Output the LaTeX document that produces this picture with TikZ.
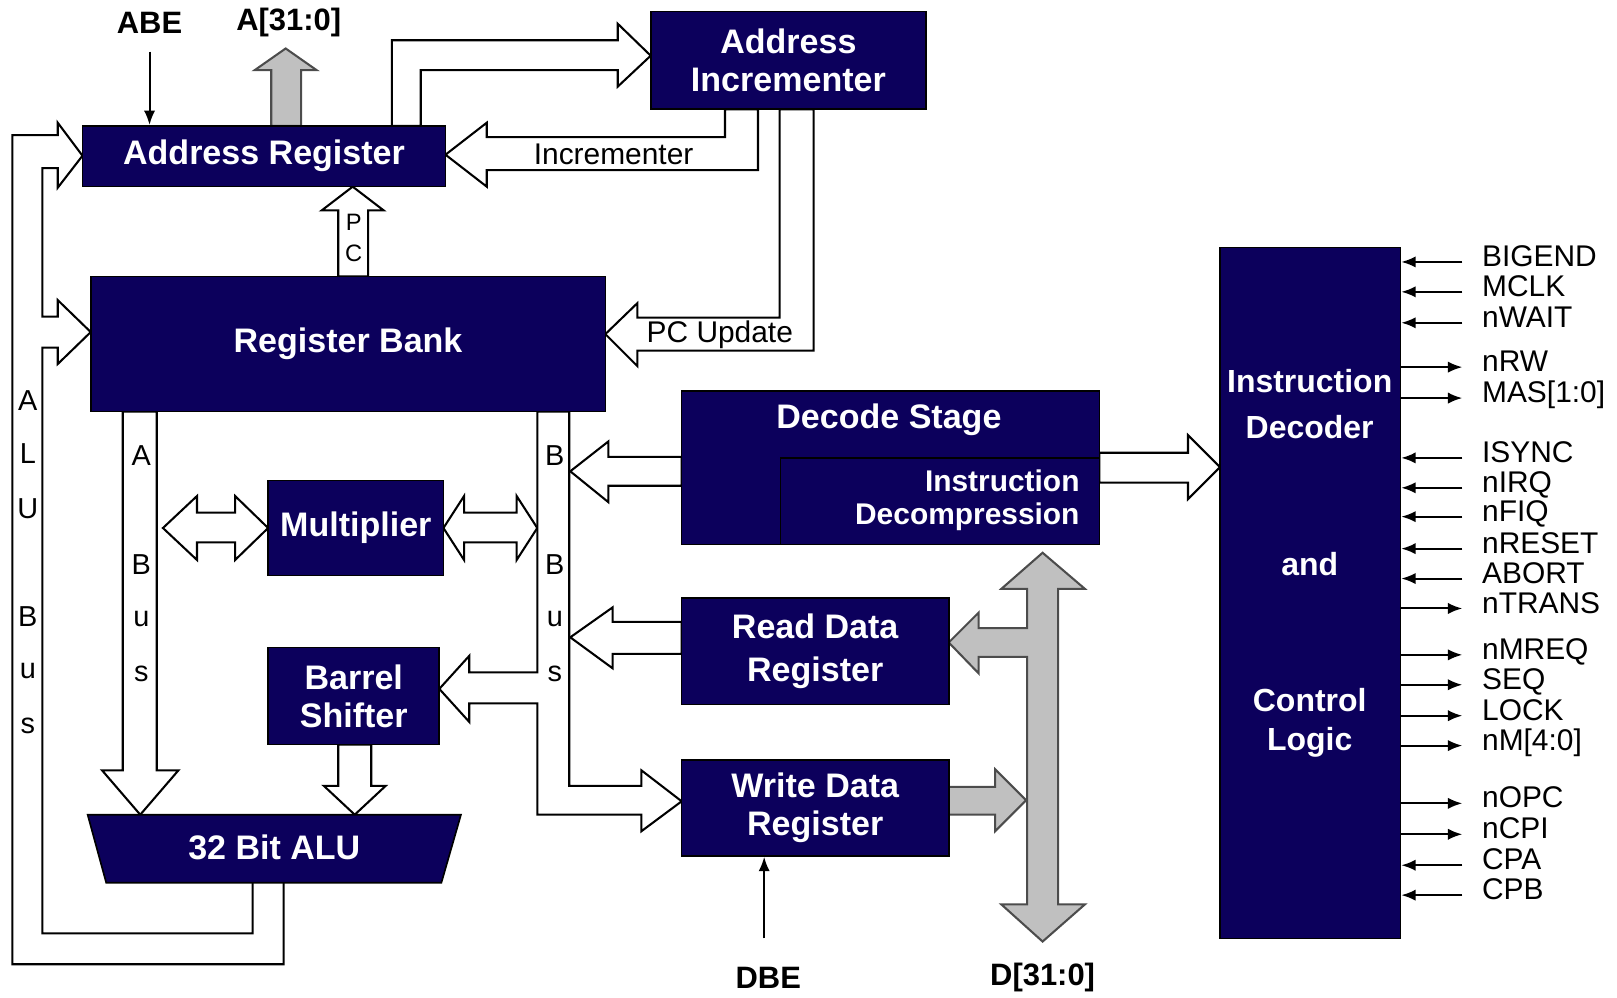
\documentclass[tikz,border=0pt]{standalone}
\usepackage{fontspec}
\setmainfont{Liberation Sans}
\usetikzlibrary{arrows.meta}
\definecolor{navy}{RGB}{12,0,92}
\definecolor{busgray}{RGB}{192,192,192}
\pgfdeclarelayer{bg}
\pgfsetlayers{bg,main}
\begin{document}
\begin{tikzpicture}[x=1pt,y=-1pt,line join=miter,
 blk/.style={draw=black,line width=1.6pt,fill=navy,text=white,inner sep=0pt,align=center,font=\bfseries\fontsize{33}{37}\selectfont},
 wtxt/.style={text=white,inner sep=0pt,align=center,font=\bfseries\fontsize{33}{37}\selectfont},
 hollow/.style={draw=black,line width=2pt,fill=white},
 busline/.style={draw=black,line width=2pt},
 grayarr/.style={draw=black!70,line width=2pt,fill=busgray},
 lbl/.style={inner sep=0pt,font=\fontsize{29}{30}\selectfont},
 letter/.style={inner sep=0pt,font=\fontsize{28}{30}\selectfont},
 pin/.style={inner sep=0pt,font=\bfseries\fontsize{30}{32}\selectfont},
 sig/.style={inner sep=0pt,anchor=west,text height=21pt,text depth=0pt,font=\fontsize{29}{30}\selectfont},
 sigarrow/.style={line width=2pt,-{Latex[length=14pt,width=11pt]}},
]
\useasboundingbox (0,0) rectangle (1568,967);

% ---------- blocks ----------
\node[blk,minimum width=352,minimum height=59] (ar) at (256,151.5) {Address Register};
\node[blk,minimum width=267,minimum height=95] (ai) at (764.5,58.5) {Address\\Incrementer};
\node[blk,minimum width=499,minimum height=131] (rb) at (337.5,333.5) {Register Bank};
\node[blk,minimum width=170,minimum height=92] (mul) at (345,512) {Multiplier};
\node[blk,minimum width=166,minimum height=94] (bs) at (343,675) {Barrel\\Shifter};
\filldraw[draw=black,line width=1.6pt,fill=navy] (85,790) -- (447,790) -- (428,856) -- (103,856) -- cycle;
\node[wtxt] (alu) at (266,822) {32 Bit ALU};
\node[blk,minimum width=405,minimum height=149] (ds) at (863.5,453.5) {};
\node[blk,minimum width=309,minimum height=84] (dsi) at (911.5,486) {};
\node[wtxt] (dst) at (862,407) {Decode Stage};
\node[wtxt,anchor=east,align=right,font=\bfseries\fontsize{29}{32}\selectfont] (dsit) at (1047,485) {Instruction\\Decompression};
\node[blk,minimum width=259,minimum height=103] (rdr) at (790.5,631.5) {Read Data\\[4pt]Register};
\node[blk,minimum width=259,minimum height=93] (wdr) at (790.5,783.5) {Write Data\\Register};
\node[blk,minimum width=175,minimum height=670] (id) at (1270.5,575) {};
\node[wtxt,font=\bfseries\fontsize{31}{45}\selectfont] (idt1) at (1270,392) {Instruction\\Decoder};
\node[wtxt,font=\bfseries\fontsize{31}{38}\selectfont] (idt2) at (1270,547) {and};
\node[wtxt,font=\bfseries\fontsize{31}{38}\selectfont] (idt3) at (1270,701) {Control\\Logic};

% ---------- pins ----------
\node[pin] (abe) at (145,22) {ABE};
\node[pin] (abus) at (280,22) {A[31:0]};
\node[pin] (dbe) at (745,948) {DBE};
\node[pin] (dbus) at (1011,948) {D[31:0]};

\coordinate (abeS) at (145,50);
\draw[sigarrow] (abeS) -- (abeS |- ar.north);
\coordinate (dbeS) at (741,910);
\draw[sigarrow] (dbeS) -- (dbeS |- wdr.south);

% ---------- fat arrows (behind blocks) ----------
\begin{pgfonlayer}{bg}
% A[31:0] out of address register
\filldraw[grayarr] (263,122) -- (263,68) -- (247,68) -- (277,47) -- (307,68) -- (292,68) -- (292,122) -- cycle;
% Address register -> incrementer
\filldraw[hollow] (380,122) -- (380,39) -- (599,39) -- (599,23) -- (631,54) -- (599,84) -- (599,68) -- (408,68) -- (408,122) -- cycle;
% Incrementer -> address register
\filldraw[hollow] (703,106) -- (703,133) -- (472,133) -- (472,119) -- (432,150) -- (472,181) -- (472,165) -- (735,165) -- (735,106) -- cycle;
% PC update
\filldraw[hollow] (756,106) -- (756,308) -- (618,308) -- (618,294) -- (587,324) -- (618,355) -- (618,340) -- (789,340) -- (789,106) -- cycle;
% PC
\filldraw[hollow] (328,268) -- (328,204) -- (312,204) -- (342,181) -- (372,204) -- (357,204) -- (357,268) -- cycle;
% ALU bus
\draw[busline] (275,856) -- (275,935) -- (12,935) -- (12,131) -- (56,131) -- (56,119) -- (80,151) -- (56,182) -- (56,163) -- (41,163) -- (41,307) -- (56,307) -- (56,291) -- (88,322) -- (56,353) -- (56,337) -- (41,337) -- (41,905) -- (245,905) -- (245,856);
% A bus
\filldraw[hollow] (119,399) -- (119,747) -- (99,747) -- (136,790) -- (173,747) -- (152,747) -- (152,399) -- cycle;
% Barrel shifter -> ALU
\filldraw[hollow] (328,722) -- (328,762) -- (314,762) -- (344,790) -- (374,762) -- (360,762) -- (360,722) -- cycle;
% Multiplier double arrows
\filldraw[hollow] (158,512) -- (191,481) -- (191,497) -- (228,497) -- (228,481) -- (260,512) -- (228,543) -- (228,526) -- (191,526) -- (191,543) -- cycle;
\filldraw[hollow] (430,512) -- (450,481) -- (450,497) -- (501,497) -- (501,481) -- (521,512) -- (501,543) -- (501,526) -- (450,526) -- (450,543) -- cycle;
% B bus
\filldraw[hollow] (521,399) -- (521,652) -- (455,652) -- (455,636) -- (426,668) -- (455,700) -- (455,682) -- (521,682) -- (521,790) -- (622,790) -- (622,806) -- (661,777) -- (622,747) -- (622,762) -- (552,762) -- (552,399) -- cycle;
% Decode stage -> B bus
\filldraw[hollow] (661,443) -- (590,443) -- (590,428) -- (553,457) -- (590,487) -- (590,471) -- (661,471) -- cycle;
% Read data -> B bus
\filldraw[hollow] (661,603) -- (594,603) -- (594,589) -- (553,618) -- (594,648) -- (594,634) -- (661,634) -- cycle;
% Decode stage -> instruction decoder
\filldraw[hollow] (1066,439) -- (1152,439) -- (1152,422) -- (1183,453) -- (1152,484) -- (1152,468) -- (1066,468) -- cycle;
% D bus with branch to read data register
\filldraw[grayarr] (1011,536) -- (1052,571) -- (1026,571) -- (1026,877) -- (1052,877) -- (1011,913) -- (971,877) -- (996,877) -- (996,637) -- (949,637) -- (949,653) -- (920,623) -- (949,594) -- (949,609) -- (996,609) -- (996,571) -- (971,571) -- cycle;
% Write data -> D bus
\filldraw[grayarr] (920,763) -- (965,763) -- (965,746) -- (995,776) -- (965,806) -- (965,790) -- (920,790) -- cycle;
\end{pgfonlayer}

% ---------- labels ----------
\node[lbl] (linc) at (595,150) {Incrementer};
\node[lbl] (lpcu) at (698,325) {PC Update};
\node[letter,font=\fontsize{23}{24}\selectfont] (lp) at (343,216) {P};
\node[letter,font=\fontsize{23}{24}\selectfont] (lc) at (343,246) {C};
\foreach \y/\c [count=\i] in {388/A,440/L,493/U,598/B,651/u,704/s}
  \node[letter] (alub\i) at (27,\y) {\c};
\foreach \y/\c [count=\i] in {442/A,547/B,600/u,653/s}
  \node[letter] (ab\i) at (137,\y) {\c};
\foreach \y/\c [count=\i] in {442/B,547/B,600/u,653/s}
  \node[letter] (bb\i) at (538,\y) {\c};

% ---------- control signals ----------
\foreach \y/\t [count=\i] in {248/BIGEND,277/MCLK,307/nWAIT,438/ISYNC,467/nIRQ,495/nFIQ,526/nRESET,555/ABORT,833/CPA,862/CPB}{
  \node[sig] (in\i) at (1437,\y) {\t};
  \coordinate (pi\i) at (1418,\y+6);
  \draw[sigarrow] (pi\i) -- (pi\i -| id.east);
}
\foreach \y/\t [count=\i] in {350/nRW,380/MAS[1:0],584/nTRANS,629/nMREQ,658/SEQ,688/LOCK,717/nM[4:0],773/nOPC,803/nCPI}{
  \node[sig] (out\i) at (1437,\y) {\t};
  \coordinate (po\i) at (1418,\y+6);
  \draw[sigarrow] (po\i -| id.east) -- (po\i);
}
\end{tikzpicture}
\end{document}
